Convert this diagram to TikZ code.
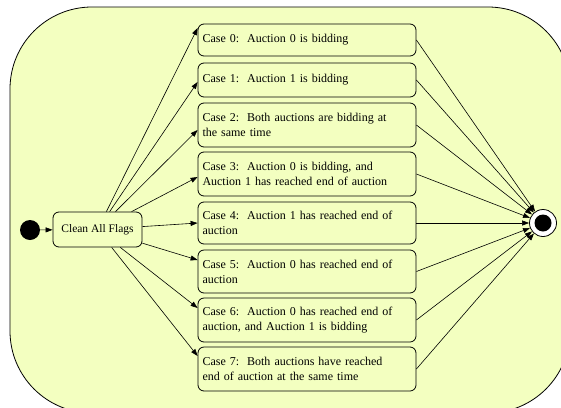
\documentclass[tikz,border=0pt]{standalone}
\usepackage{fontspec}
\setmainfont{Liberation Serif}
\usetikzlibrary{arrows.meta,calc}
\definecolor{bgfill}{RGB}{243,255,192}
\frenchspacing
\begin{document}
\begin{tikzpicture}[x=1pt,y=-1pt,
  casebox/.style={draw, rounded corners=6pt, fill=bgfill, line width=0.8pt,
    minimum width=218pt, text width=209pt, align=left, inner sep=0pt,
    font=\fontsize{12}{15}\selectfont},
  cleanbox/.style={draw, rounded corners=6pt, fill=bgfill, line width=0.8pt,
    minimum width=89pt, minimum height=35pt, inner sep=0pt,
    font=\fontsize{11.5}{13}\selectfont},
  conn/.style={line width=0.6pt, -{Triangle[length=7pt,width=5pt]}}
]
\useasboundingbox (0,0) rectangle (561,407);
\begin{scope}
\clip (0,0) rectangle (561,407);
\draw[fill=bgfill, line width=0.8pt, rounded corners=82pt] (10,7) rectangle (570,413);
\end{scope}

\node[circle, fill=black, minimum size=20pt, inner sep=0pt] (init) at (30,230) {};
\node[cleanbox] (clean) at (97.5,229.5) {Clean All Flags};
\node[circle, draw, fill=white, line width=0.8pt, minimum size=27pt, inner sep=0pt] (final) at (543,223) {};
\node[circle, fill=black, minimum size=17pt, inner sep=0pt] (finaldot) at (543,223) {};

\node[casebox, minimum height=32pt] (c0) at (307,40) {Case 0:\ \ Auction 0 is bidding};
\node[casebox, minimum height=34pt] (c1) at (307,80) {Case 1:\ \ Auction 1 is bidding};
\node[casebox, minimum height=44pt] (c2) at (307,125) {Case 2:\ \ Both auctions are bidding at\\the same time};
\node[casebox, minimum height=44pt] (c3) at (307,174) {Case 3:\ \ Auction 0 is bidding, and\\Auction 1 has reached end of auction};
\node[casebox, minimum height=42pt] (c4) at (307,223) {Case 4:\ \ Auction 1 has reached end of\\auction};
\node[casebox, minimum height=43pt] (c5) at (307,271.5) {Case 5:\ \ Auction 0 has reached end of\\auction};
\node[casebox, minimum height=44pt] (c6) at (307,320) {Case 6:\ \ Auction 0 has reached end of\\auction, and Auction 1 is bidding};
\node[casebox, minimum height=44pt] (c7) at (307,369) {Case 7:\ \ Both auctions have reached\\end of auction at the same time};

\draw[conn] (init) -- (clean);

\coordinate (t0) at ($(c0.west)+(0,-12)$);
\coordinate (t1) at ($(c1.west)+(0,2)$);
\coordinate (t2) at ($(c2.west)+(0,5)$);
\coordinate (t3) at ($(c3.west)+(0,3)$);
\coordinate (t4) at ($(c4.west)+(0,0)$);
\coordinate (t5) at ($(c5.west)+(0,-11.5)$);
\coordinate (t6) at ($(c6.west)+(0,-12)$);
\coordinate (t7) at ($(c7.west)+(0,-13)$);
\foreach \i in {0,...,7} {
  \draw[conn] (clean) -- (t\i);
  \draw[conn] (c\i.east) -- (final);
}
\end{tikzpicture}
\end{document}
